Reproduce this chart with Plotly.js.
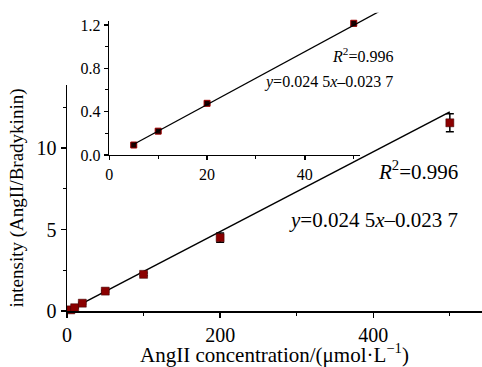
<!DOCTYPE html>
<html>
<head>
<meta charset="utf-8">
<script src="https://cdn.plot.ly/plotly-3.0.1.min.js"></script>
<style>
html,body{margin:0;padding:0;background:#fff;}
#chart{width:482px;height:367px;}
#chart text{font-family:"Liberation Serif", serif !important;}
</style>
</head>
<body>
<div id="chart"></div>
<script>
// Main plot data
const mainConc = [5, 10, 20, 50, 100, 200, 500];
const mainIntensity = [0.07, 0.2, 0.48, 1.22, 2.25, 4.5, 11.55];
const mainError = [0.05, 0.05, 0.05, 0.06, 0.08, 0.28, 0.55];
// Inset data
const insetConc = [5, 10, 20, 50];
const insetIntensity = [0.092, 0.22, 0.477, 1.216];
const insetError = [0.01, 0.01, 0.01, 0.025];
// Fit line (y = 0.0245x - 0.0237) endpoints
const mainFitX = [5, 500];
const mainFitY = [0.099, 12.226];
const insetFitX = [5, 55.1];
const insetFitY = [0.099, 1.326];
// Tick labels / texts
const xTitle = 'AngII concentration/(μmol·L<sup>−1</sup>)';
const yTitle = 'intensity (AngII/Bradykinin)';
const r2Text = '<i>R</i><sup>2</sup>=0.996';
const eqText = '<i>y</i>=0.024 5<i>x</i>–0.023 7';

const FONT = 'Liberation Serif';
const RED = '#8b0000';

const traces = [
  {x: mainFitX, y: mainFitY, xaxis: 'x', yaxis: 'y', mode: 'lines',
   line: {color: '#000', width: 1.5}, hoverinfo: 'skip'},
  {x: mainConc, y: mainIntensity, xaxis: 'x', yaxis: 'y', mode: 'markers',
   marker: {symbol: 'square', size: 8, color: RED, line: {color: '#3a0000', width: 0.5}},
   error_y: {type: 'data', array: mainError, visible: true, color: '#000', thickness: 1.5, width: 4},
   cliponaxis: false},
  {x: insetFitX, y: insetFitY, xaxis: 'x3', yaxis: 'y3', mode: 'lines',
   line: {color: '#000', width: 1.3}, hoverinfo: 'skip'},
  {x: insetConc, y: insetIntensity, xaxis: 'x2', yaxis: 'y2', mode: 'markers',
   marker: {symbol: 'square', size: 6, color: '#1a0000', line: {color: '#a00000', width: 1}},
   error_y: {type: 'data', array: insetError, visible: true, color: '#000', thickness: 1.2, width: 3},
   cliponaxis: false}
];

const axisCommon = {
  showline: true, linecolor: '#000', linewidth: 1.5, showgrid: false, zeroline: false,
  ticks: 'outside', ticklen: 5, tickwidth: 1.3, tickcolor: '#000'
};

const layout = {
  width: 482, height: 367,
  margin: {l: 67, r: 0, t: 10, b: 56},
  paper_bgcolor: '#fff', plot_bgcolor: 'rgba(0,0,0,0)',
  showlegend: false,
  font: {family: FONT, color: '#000'},
  xaxis: Object.assign({}, axisCommon, {
    domain: [0, 1], range: [0, 542], anchor: 'y', dtick: 200, tick0: 0,
    tickfont: {family: FONT, size: 20, color: '#000'},
    minor: {dtick: 100, ticks: 'outside', ticklen: 3, tickcolor: '#000', tickwidth: 1.2},
    title: {text: xTitle, font: {family: FONT, size: 21, color: '#000'}, standoff: 4}
  }),
  yaxis: Object.assign({}, axisCommon, {
    domain: [0, 0.7508], range: [0, 13.87], anchor: 'x', dtick: 5, tick0: 0,
    tickfont: {family: FONT, size: 20, color: '#000'},
    minor: {dtick: 2.5, ticks: 'outside', ticklen: 3, tickcolor: '#000', tickwidth: 1.2},
    title: {text: yTitle, font: {family: FONT, size: 19, color: '#000'}, standoff: 8}
  }),
  xaxis2: Object.assign({}, axisCommon, {
    domain: [0.1019, 0.7063], range: [0, 51.3], anchor: 'y2', dtick: 20, tick0: 0,
    ticklen: 4, tickfont: {family: FONT, size: 16, color: '#000'},
    minor: {dtick: 10, ticks: 'outside', ticklen: 2.5, tickcolor: '#000', tickwidth: 1}
  }),
  yaxis2: Object.assign({}, axisCommon, {
    domain: [0.5183, 0.9635], range: [0, 1.237], anchor: 'x2', dtick: 0.4, tick0: 0,
    ticklen: 4, tickformat: '.1f', tickfont: {family: FONT, size: 16, color: '#000'},
    minor: {dtick: 0.2, ticks: 'outside', ticklen: 2.5, tickcolor: '#000', tickwidth: 1}
  }),
  xaxis3: {domain: [0.1019, 0.7525], range: [0, 55.1], anchor: 'y3', visible: false, fixedrange: true},
  yaxis3: {domain: [0.5183, 0.991], range: [0, 1.314], anchor: 'x3', visible: false, fixedrange: true},
  annotations: [
    {xref: 'paper', yref: 'paper', x: 0.947, y: 0.4684, xanchor: 'right', yanchor: 'middle',
     text: r2Text, showarrow: false, font: {family: FONT, size: 21}},
    {xref: 'paper', yref: 'paper', x: 0.947, y: 0.3023, xanchor: 'right', yanchor: 'middle',
     text: eqText, showarrow: false, font: {family: FONT, size: 21}},
    {xref: 'paper', yref: 'paper', x: 0.790, y: 0.8505, xanchor: 'right', yanchor: 'middle',
     text: r2Text, showarrow: false, font: {family: FONT, size: 16}},
    {xref: 'paper', yref: 'paper', x: 0.790, y: 0.7618, xanchor: 'right', yanchor: 'middle',
     text: eqText, showarrow: false, font: {family: FONT, size: 16}}
  ]
};

Plotly.newPlot('chart', traces, layout, {displayModeBar: false, staticPlot: true});
</script>
</body>
</html>
